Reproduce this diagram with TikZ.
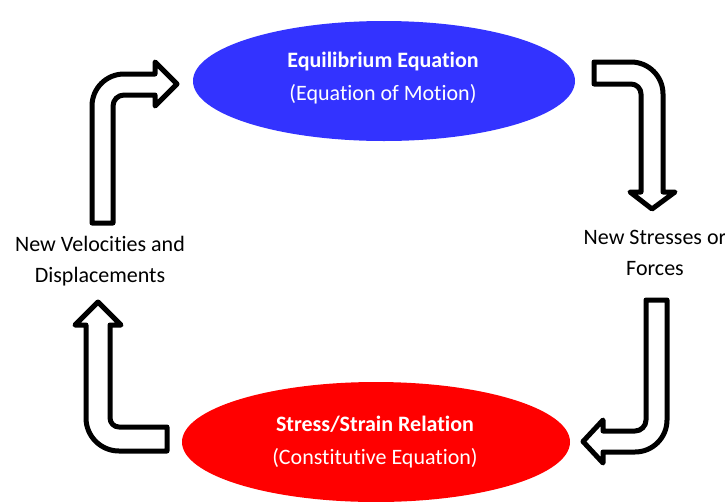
\documentclass[tikz,border=0pt]{standalone}
\usepackage{fontspec}
\setmainfont{Carlito}[Ligatures=NoCommon]
\usetikzlibrary{shapes.geometric}
\definecolor{eqblue}{RGB}{51,51,255}
\definecolor{eqred}{RGB}{255,0,0}
\begin{document}
\begin{tikzpicture}[x=1pt,y=-1pt,
  blockarrow/.style={draw=black, line width=5pt, fill=white, line join=round},
  oval/.style={ellipse, inner sep=0pt, draw=none, minimum height=120pt},
  lbl/.style={align=center, inner sep=0pt, font=\fontsize{22}{31}\selectfont},
  inlbl/.style={lbl, text=white, font=\fontsize{22}{33}\selectfont}]
\useasboundingbox (0,0) rectangle (725,501);
% ellipses
\node[oval, fill=eqblue, minimum width=382pt] (eq) at (384,81) {};
\node[oval, fill=eqred, minimum width=388pt] (ss) at (376,442) {};
\node[inlbl] (eqtext) at (383,78) {\textbf{Equilibrium Equation}\\(Equation of Motion)};
\node[inlbl] (sstext) at (375,442) {\textbf{Stress/Strain Relation}\\(Constitutive Equation)};
% side labels
\node[lbl] (vel) at (100,261) {New Velocities and\\Displacements};
\node[lbl] (str) at (655,253) {New Stresses or\\Forces};
% arrow 1: up then right
\draw[blockarrow] (92,223) -- (113,223) -- (113,106)
  arc[start angle=180, end angle=270, radius=11]
  -- (155,95) -- (155,106) -- (177,84) -- (155,62) -- (155,74) -- (124,74)
  arc[start angle=270, end angle=180, radius=32] -- cycle;
% arrow 2: right then down
\draw[blockarrow] (594,62) -- (631,62)
  arc[start angle=270, end angle=360, radius=32]
  -- (663,192) -- (675,192) -- (652,209) -- (630,192) -- (641,192) -- (641,94)
  arc[start angle=0, end angle=-90, radius=10] -- (594,84) -- cycle;
% arrow 3: down then left
\draw[blockarrow] (646,300) -- (667,300) -- (667,420)
  arc[start angle=0, end angle=90, radius=32]
  -- (603,452) -- (603,463) -- (583,441.5) -- (603,420) -- (603,431) -- (635,431)
  arc[start angle=90, end angle=0, radius=11] -- cycle;
% arrow 4: left then up
\draw[blockarrow] (167,427) -- (119,427)
  arc[start angle=90, end angle=180, radius=9]
  -- (110,325) -- (121,325) -- (98,302) -- (75,325) -- (86,325) -- (86,418)
  arc[start angle=180, end angle=90, radius=33] -- (167,451) -- cycle;
\end{tikzpicture}
\end{document}
